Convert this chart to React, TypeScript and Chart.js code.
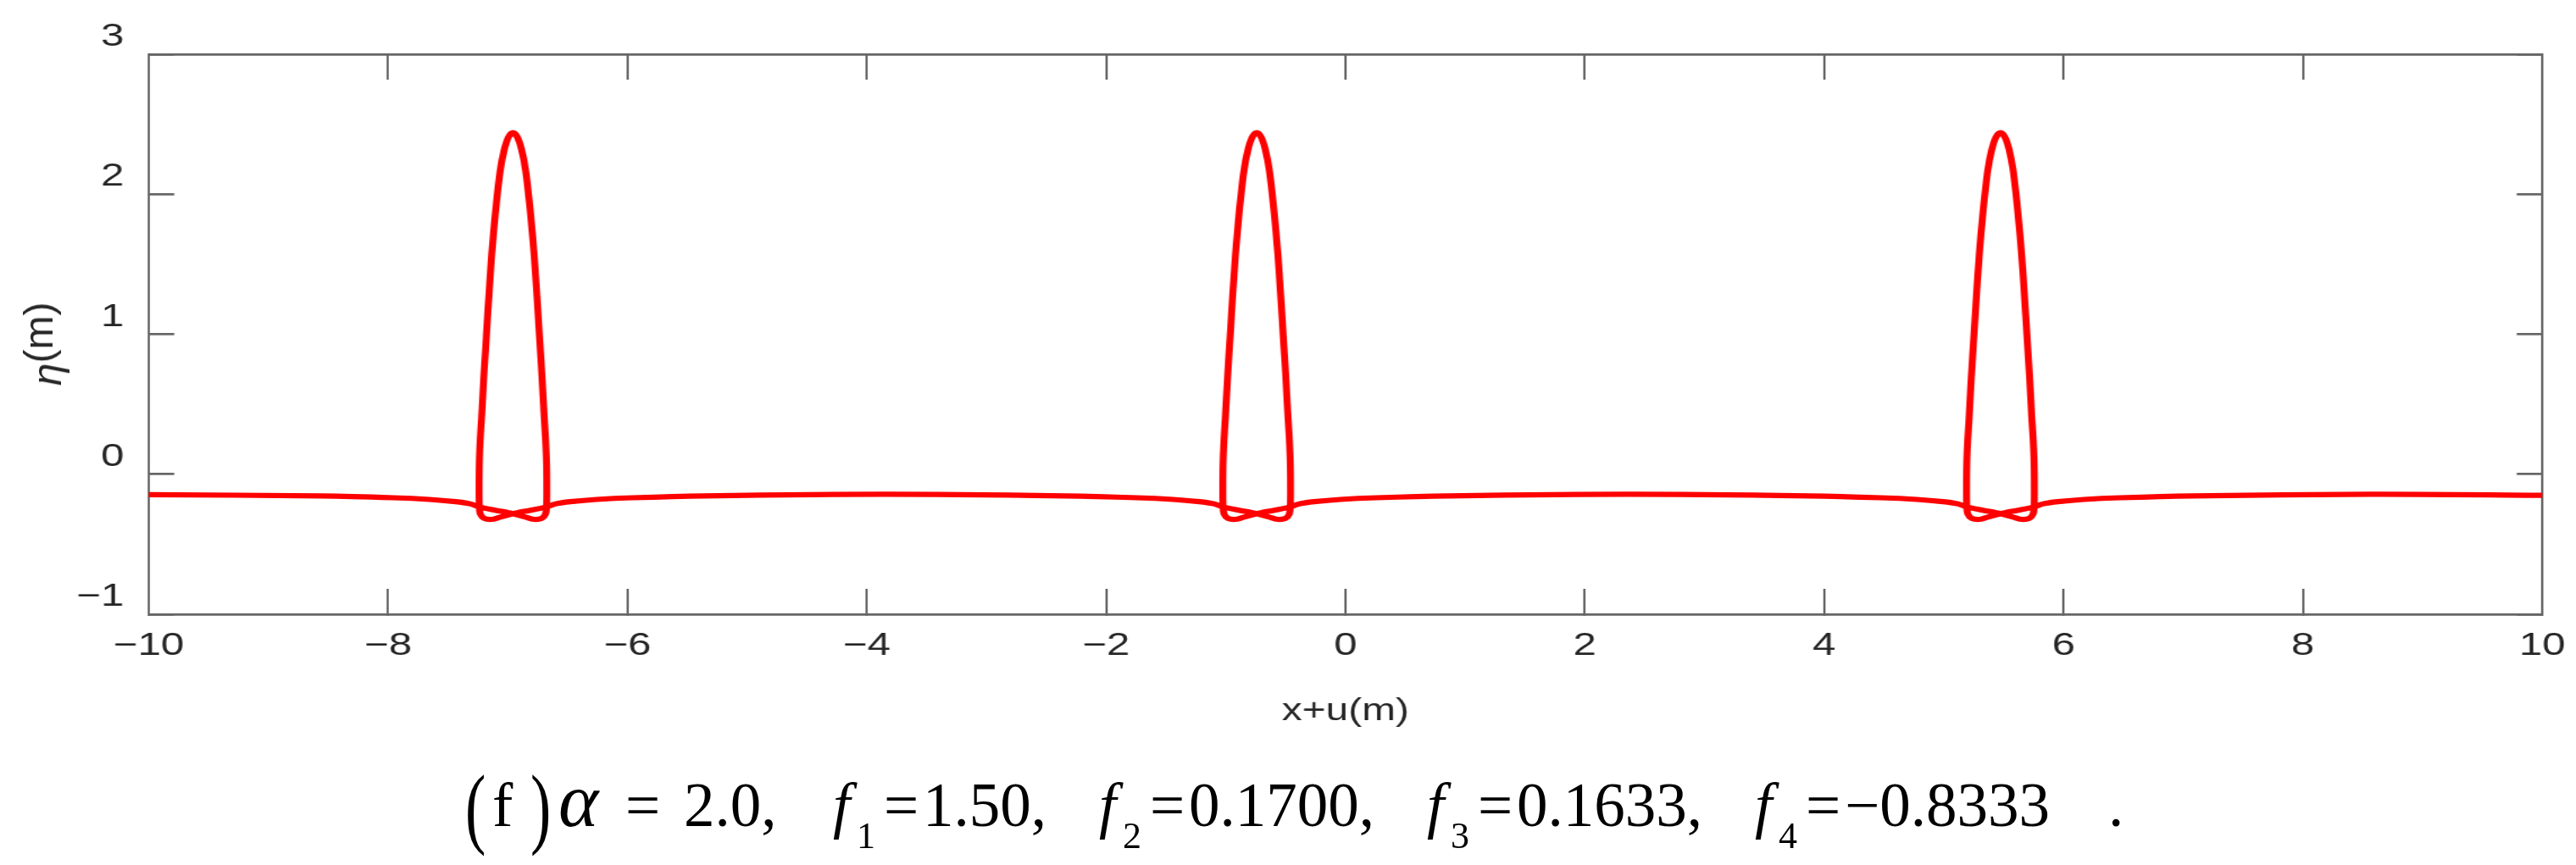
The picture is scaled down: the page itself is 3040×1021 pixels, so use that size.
import React, { useEffect, useRef } from 'react';
import { Chart, registerables } from 'chart.js';

Chart.register(...registerables);

// ---------- data ----------
const xTickValues = [-10, -8, -6, -4, -2, 0, 2, 4, 6, 8, 10];
const xTickLabels = ['−10', '−8', '−6', '−4', '−2', '0', '2', '4', '6', '8', '10'];
const yTickValues = [-1, 0, 1, 2, 3];
const yTickLabels = ['−1', '0', '1', '2', '3'];

const edgeX = [-10, 10];
const edgeEta = [-0.146, -0.151];
const troughX = [-3.85, 2.366, 8.58];
const troughEta = [-0.143, -0.143, -0.143];

const wave1X = [
  -8.557, -7.957, -7.657, -7.437, -7.317, -7.237, -7.097, -6.957, -6.857, -6.782,
  -6.717, -6.685, -6.676, -6.674, -6.676, -6.684, -6.695, -6.714, -6.734, -6.756,
  -6.78, -6.811, -6.851, -6.885, -6.921, -6.957, -6.993, -7.029, -7.063, -7.103,
  -7.134, -7.158, -7.18, -7.2, -7.219, -7.23, -7.238, -7.24, -7.238, -7.229,
  -7.197, -7.132, -7.057, -6.957, -6.817, -6.677, -6.597, -6.477, -6.257, -5.957,
  -5.357,
];
const wave1Eta = [
  -0.155, -0.168, -0.18, -0.196, -0.211, -0.234, -0.258, -0.282, -0.305, -0.322,
  -0.315, -0.285, -0.234, -0.1, 0.08, 0.25, 0.4, 0.7, 0.97, 1.27,
  1.57, 1.87, 2.17, 2.32, 2.41, 2.44, 2.41, 2.32, 2.17, 1.87,
  1.57, 1.27, 0.97, 0.7, 0.4, 0.25, 0.08, -0.1, -0.234, -0.285,
  -0.315, -0.322, -0.305, -0.282, -0.258, -0.234, -0.211, -0.196, -0.18, -0.168,
  -0.155,
];

const wave2X = [
  -2.342, -1.742, -1.442, -1.222, -1.102, -1.022, -0.882, -0.742, -0.642, -0.567,
  -0.502, -0.47, -0.461, -0.459, -0.461, -0.469, -0.48, -0.499, -0.519, -0.541,
  -0.565, -0.596, -0.636, -0.67, -0.706, -0.742, -0.778, -0.814, -0.848, -0.888,
  -0.919, -0.943, -0.965, -0.985, -1.004, -1.015, -1.023, -1.025, -1.023, -1.014,
  -0.982, -0.917, -0.842, -0.742, -0.602, -0.462, -0.382, -0.262, -0.042, 0.258,
  0.858,
];
const wave2Eta = [
  -0.155, -0.168, -0.18, -0.196, -0.211, -0.234, -0.258, -0.282, -0.305, -0.322,
  -0.315, -0.285, -0.234, -0.1, 0.08, 0.25, 0.4, 0.7, 0.97, 1.27,
  1.57, 1.87, 2.17, 2.32, 2.41, 2.44, 2.41, 2.32, 2.17, 1.87,
  1.57, 1.27, 0.97, 0.7, 0.4, 0.25, 0.08, -0.1, -0.234, -0.285,
  -0.315, -0.322, -0.305, -0.282, -0.258, -0.234, -0.211, -0.196, -0.18, -0.168,
  -0.155,
];

const wave3X = [
  3.873, 4.473, 4.773, 4.993, 5.113, 5.193, 5.333, 5.473, 5.573, 5.648,
  5.713, 5.745, 5.754, 5.756, 5.754, 5.746, 5.735, 5.716, 5.696, 5.674,
  5.65, 5.619, 5.579, 5.545, 5.509, 5.473, 5.437, 5.401, 5.367, 5.327,
  5.296, 5.272, 5.25, 5.23, 5.211, 5.2, 5.192, 5.19, 5.192, 5.201,
  5.233, 5.298, 5.373, 5.473, 5.613, 5.753, 5.833, 5.953, 6.173, 6.473,
  7.073,
];
const wave3Eta = [
  -0.155, -0.168, -0.18, -0.196, -0.211, -0.234, -0.258, -0.282, -0.305, -0.322,
  -0.315, -0.285, -0.234, -0.1, 0.08, 0.25, 0.4, 0.7, 0.97, 1.27,
  1.57, 1.87, 2.17, 2.32, 2.41, 2.44, 2.41, 2.32, 2.17, 1.87,
  1.57, 1.27, 0.97, 0.7, 0.4, 0.25, 0.08, -0.1, -0.234, -0.285,
  -0.315, -0.322, -0.305, -0.282, -0.258, -0.234, -0.211, -0.196, -0.18, -0.168,
  -0.155,
];

const xTitle = 'x+u(m)';

type Tok = { text: string; left: number; size: number; italic?: boolean; sub?: boolean; paren?: boolean };
const captionTokens: Tok[] = [
  { text: '(', left: 549, size: 73, paren: true },
  { text: 'f', left: 581, size: 73 },
  { text: ')', left: 626, size: 73, paren: true },
  { text: 'α', left: 659, size: 90, italic: true },
  { text: '=', left: 738, size: 73 },
  { text: '2.0,', left: 807, size: 73 },
  { text: 'f', left: 983, size: 73, italic: true },
  { text: '1', left: 1011, size: 44, sub: true },
  { text: '=', left: 1043, size: 73 },
  { text: '1.50,', left: 1089, size: 73 },
  { text: 'f', left: 1297, size: 73, italic: true },
  { text: '2', left: 1325, size: 44, sub: true },
  { text: '=', left: 1357, size: 73 },
  { text: '0.1700,', left: 1403, size: 73 },
  { text: 'f', left: 1684, size: 73, italic: true },
  { text: '3', left: 1712, size: 44, sub: true },
  { text: '=', left: 1744, size: 73 },
  { text: '0.1633,', left: 1790, size: 73 },
  { text: 'f', left: 2071, size: 73, italic: true },
  { text: '4', left: 2099, size: 44, sub: true },
  { text: '=', left: 2131, size: 73 },
  { text: '−0.8333', left: 2177, size: 73 },
  { text: '.', left: 2488, size: 73 },
];

// ---------- layout constants ----------
const PAGE_W = 3040;
const PAGE_H = 1021;
const CW = 2286; // canvas drawn narrower then stretched horizontally like the reference
const SX = PAGE_W / CW;
const SANS = "'Liberation Sans', Arial, Helvetica, sans-serif";
const SERIF = "'Liberation Serif', 'Times New Roman', serif";
const AXIS = '#666666';
const TEXT = '#262626';

function pts(xs: number[], ys: number[]) {
  return xs.map((x, i) => ({ x, y: ys[i] }));
}

export default function App() {
  const ref = useRef<HTMLCanvasElement | null>(null);

  useEffect(() => {
    const canvas = ref.current;
    if (!canvas) return;
    const curve = [
      { x: edgeX[0], y: edgeEta[0] },
      ...pts(wave1X, wave1Eta),
      { x: troughX[0], y: troughEta[0] },
      ...pts(wave2X, wave2Eta),
      { x: troughX[1], y: troughEta[1] },
      ...pts(wave3X, wave3Eta),
      { x: troughX[2], y: troughEta[2] },
      { x: edgeX[1], y: edgeEta[1] },
    ];

    const zeroPad = (s: any) => {
      s.paddingLeft = 0;
      s.paddingRight = 0;
      s.paddingTop = 0;
      s.paddingBottom = 0;
    };

    const chart = new Chart(canvas, {
      type: 'scatter',
      data: {
        datasets: [
          {
            data: curve,
            showLine: true,
            borderColor: '#ff0000',
            backgroundColor: '#ff0000',
            borderWidth: 6.2,
            pointRadius: 0,
            pointHoverRadius: 0,
            tension: 0.3,
            fill: false,
            borderJoinStyle: 'round',
            borderCapStyle: 'round',
            clip: 0,
          } as any,
        ],
      },
      options: {
        animation: false,
        responsive: false,
        maintainAspectRatio: false,
        devicePixelRatio: 1,
        events: [],
        layout: { padding: 0 },
        plugins: {
          legend: { display: false },
          tooltip: { enabled: false },
          title: { display: false },
        },
        scales: {
          x: {
            type: 'linear',
            position: 'bottom',
            min: -10,
            max: 10,
            afterBuildTicks: (s: any) => {
              s.ticks = xTickValues.map((v) => ({ value: v }));
            },
            afterFit: (s: any) => {
              s.height = PAGE_H - 725;
              zeroPad(s);
            },
            ticks: {
              callback: (_v: any, i: number) => xTickLabels[i],
              font: { family: SANS, size: 37 },
              color: TEXT,
              padding: 45.3,
              maxRotation: 0,
              autoSkip: false,
            },
            grid: { drawOnChartArea: false, drawTicks: true, tickLength: -30, color: AXIS, lineWidth: 2 },
            border: { display: true, color: AXIS, width: 2.7 },
            title: {
              display: true,
              text: xTitle,
              font: { family: SANS, size: 36 },
              color: TEXT,
              padding: { top: 0, bottom: 159 },
            },
          },
          x2: {
            type: 'linear',
            position: 'top',
            min: -10,
            max: 10,
            afterBuildTicks: (s: any) => {
              s.ticks = xTickValues.map((v) => ({ value: v }));
            },
            afterFit: (s: any) => {
              s.height = 64;
              zeroPad(s);
            },
            ticks: { display: false },
            grid: { drawOnChartArea: false, drawTicks: true, tickLength: -30, color: AXIS, lineWidth: 2 },
            border: { display: true, color: AXIS, width: 2.7 },
          },
          y: {
            type: 'linear',
            position: 'left',
            min: -1,
            max: 3,
            afterBuildTicks: (s: any) => {
              s.ticks = yTickValues.map((v) => ({ value: v }));
            },
            afterFit: (s: any) => {
              s.width = 132;
              zeroPad(s);
            },
            ticks: {
              callback: (_v: any, i: number) => yTickLabels[i],
              font: { family: SANS, size: 37 },
              color: TEXT,
              padding: 44.6,
              labelOffset: -20,
              autoSkip: false,
            },
            grid: { drawOnChartArea: false, drawTicks: true, tickLength: -22.6, color: AXIS, lineWidth: 2.7 },
            border: { display: true, color: AXIS, width: 2 },
          },
          y2: {
            type: 'linear',
            position: 'right',
            min: -1,
            max: 3,
            afterBuildTicks: (s: any) => {
              s.ticks = yTickValues.map((v) => ({ value: v }));
            },
            afterFit: (s: any) => {
              s.width = CW - 2256;
              zeroPad(s);
            },
            ticks: { display: false },
            grid: { drawOnChartArea: false, drawTicks: true, tickLength: -22.6, color: AXIS, lineWidth: 2.7 },
            border: { display: true, color: AXIS, width: 2 },
          },
        },
      } as any,
    });

    return () => {
      chart.destroy();
    };
  }, []);

  const MAIN_BASE = 975;
  const SUB_BASE = 1002;

  return (
    <div
      style={{
        position: 'absolute',
        left: 0,
        top: 0,
        width: PAGE_W,
        height: PAGE_H,
        background: '#ffffff',
        overflow: 'hidden',
      }}
    >
      <div
        style={{
          position: 'absolute',
          left: 0,
          top: 0,
          width: CW,
          height: PAGE_H,
          transform: `scaleX(${SX})`,
          transformOrigin: '0 0',
        }}
      >
        <canvas ref={ref} width={CW} height={PAGE_H} style={{ display: 'block', width: CW, height: PAGE_H }} />
      </div>

      {/* y-axis title */}
      <div
        style={{
          position: 'absolute',
          left: 46,
          top: 406,
          transform: 'translate(-50%, -50%) rotate(-90deg)',
          fontFamily: SANS,
          fontSize: 48,
          lineHeight: 1,
          whiteSpace: 'nowrap',
          color: TEXT,
        }}
      >
        <span style={{ fontStyle: 'italic', position: 'relative', top: 10 }}>η</span>(m)
      </div>

      {/* caption */}
      {captionTokens.map((t, i) => {
        const base = t.sub ? SUB_BASE : MAIN_BASE;
        const top = base - 0.8375 * t.size;
        const style: React.CSSProperties = {
          position: 'absolute',
          left: t.left,
          top,
          fontFamily: SERIF,
          fontSize: t.size,
          lineHeight: `${t.size}px`,
          fontStyle: t.italic ? 'italic' : 'normal',
          whiteSpace: 'nowrap',
          color: '#000000',
        };
        if (t.paren) {
          style.transform = 'translateY(5px) scaleY(1.45)';
          style.transformOrigin = `50% ${0.579 * t.size}px`;
        }
        return (
          <span key={i} style={style}>
            {t.text}
          </span>
        );
      })}
    </div>
  );
}
